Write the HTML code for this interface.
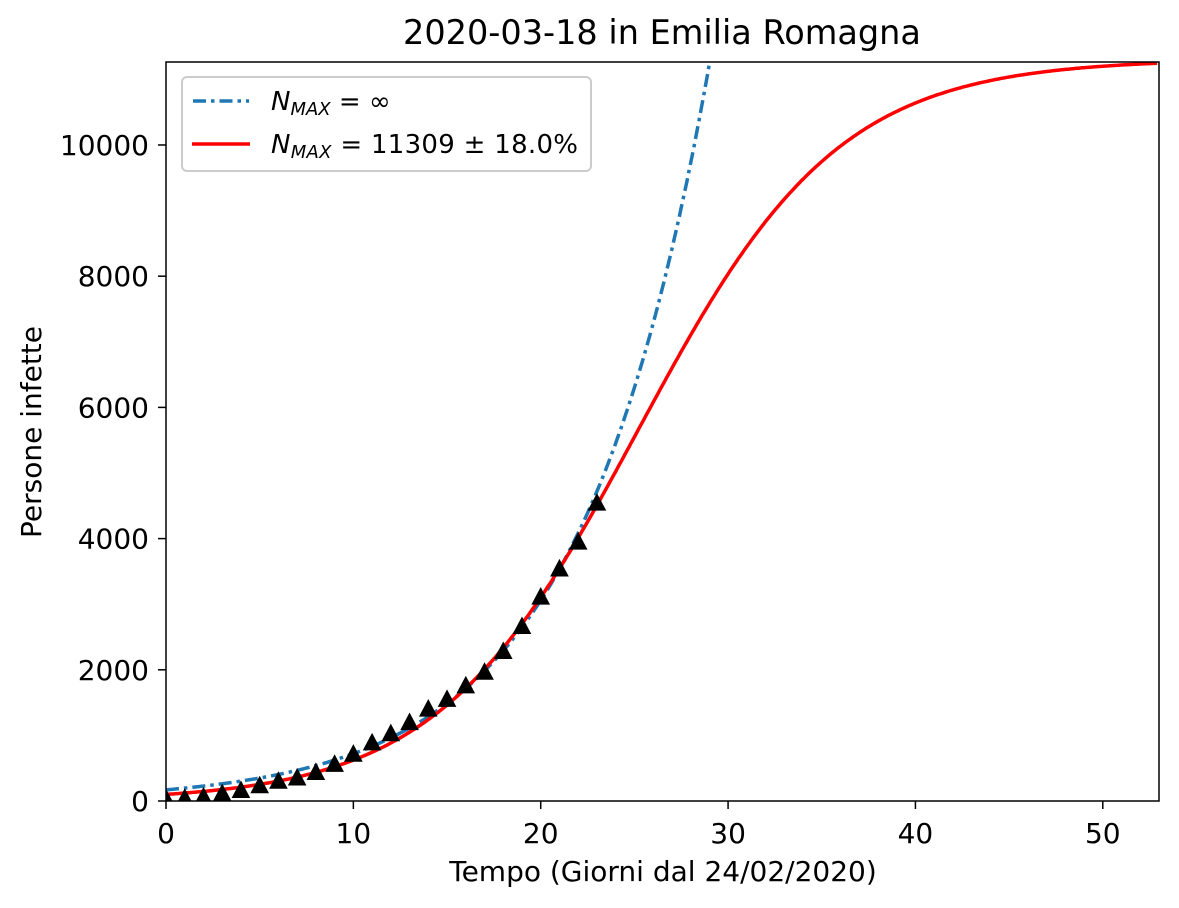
<!DOCTYPE html>
<html><head><meta charset="utf-8"><style>
body{margin:0;background:#fff;font-family:"Liberation Sans","DejaVu Sans",sans-serif}
svg text{font-family:"DejaVu Sans","Liberation Sans",sans-serif;fill:#000}
</style></head><body>
<svg id="chart" width="1179" height="908" xmlns="http://www.w3.org/2000/svg" style="position:absolute;left:0;top:0">
<g id="plot"></g>
</svg>
<script>
const days=[0,1,2,3,4,5,6,7,8,9,10,11,12,13,14,15,16,17,18,19,20,21,22,23];
const cases=[18,26,47,97,145,217,285,335,420,544,698,870,1010,1180,1386,1533,1739,1947,2263,2644,3093,3522,3931,4525];
const xTicks=[0,10,20,30,40,50];
const yTicks=[0,2000,4000,6000,8000,10000];
const logisticParams=[11309,25.2,5.35]; // Nmax, t0, tau
const expParams=[170,6.92]; // A, tau
const X0=166,X1=1159,Y0=801,Y1=62,xMax=53,yMax=11265;
const sx=v=>X0+(v/xMax)*(X1-X0), sy=v=>Y0-(v/yMax)*(Y0-Y1);
const NS="http://www.w3.org/2000/svg";
const g=document.getElementById('plot');
function mk(t,a,p){const e=document.createElementNS(NS,t);for(const k in a)e.setAttribute(k,a[k]);(p||g).appendChild(e);return e;}
const cp=mk('clipPath',{id:'cp'});mk('rect',{x:X0,y:Y1,width:X1-X0,height:Y0-Y1},cp);
let d='';for(let t=0;t<=xMax;t+=0.1){const v=expParams[0]*Math.exp(t/expParams[1]);d+=(d?'L':'M')+sx(t).toFixed(1)+','+sy(v).toFixed(1);}
let e=mk('path',{d:d,fill:'none',stroke:'#1f77b4','stroke-width':3.5,'stroke-dasharray':'13,5,3.5,5','clip-path':'url(#cp)'});


d='';for(let t=0;t<=xMax;t+=0.1){const v=logisticParams[0]/(1+Math.exp(-(t-logisticParams[1])/logisticParams[2]));d+=(d?'L':'M')+sx(t).toFixed(1)+','+sy(v).toFixed(1);}
e=mk('path',{d:d,fill:'none',stroke:'#ff0000','stroke-width':3.5,'clip-path':'url(#cp)'});


days.forEach((t,i)=>{const x=sx(t),y=sy(cases[i]);
const m=mk('path',{d:`M${x},${y-10}L${x+8.5},${y+6}L${x-8.5},${y+6}Z`,fill:'#000',stroke:'#000','stroke-width':1,'clip-path':'url(#cp)'});

});
mk('rect',{x:X0,y:Y1,width:X1-X0,height:Y0-Y1,fill:'none',stroke:'#000','stroke-width':1.5});
xTicks.forEach(v=>{const x=sx(v);mk('line',{x1:x,x2:x,y1:Y0,y2:Y0+8,stroke:'#000','stroke-width':1.5});
const t=mk('text',{x:x,y:843,'text-anchor':'middle','font-size':28});t.textContent=v;

});
yTicks.forEach(v=>{const y=sy(v);mk('line',{x1:X0-8,x2:X0,y1:y,y2:y,stroke:'#000','stroke-width':1.5});
const t=mk('text',{x:149,y:y+10,'text-anchor':'end','font-size':28});t.textContent=v;

});
</script>
<svg style="position:absolute;left:0;top:0" width="1179" height="908" xmlns="http://www.w3.org/2000/svg">
<text x="662" y="44" text-anchor="middle" font-size="33.5">2020-03-18 in Emilia Romagna</text>
<text x="663" y="881" text-anchor="middle" font-size="28">Tempo (Giorni dal 24/02/2020)</text>
<text transform="translate(41,432) rotate(-90)" text-anchor="middle" font-size="28">Persone infette</text>
<g>
<rect x="182" y="77" width="409" height="94" rx="5" fill="#fff" fill-opacity="0.8" stroke="#ccc" stroke-width="2"/>
<line x1="193" x2="249" y1="101" y2="101" stroke="#1f77b4" stroke-width="3.5" stroke-dasharray="13,5,3.5,5"/>
<text x="271" y="110" font-size="26"><tspan font-style="italic">N</tspan><tspan font-style="italic" font-size="18" dy="5">MAX</tspan><tspan dy="-5"> = ∞</tspan></text>
<line x1="192" x2="250" y1="144" y2="144" stroke="#ff0000" stroke-width="3.5"/>
<text x="271" y="153" font-size="26" textLength="307"><tspan font-style="italic">N</tspan><tspan font-style="italic" font-size="18" dy="5">MAX</tspan><tspan dy="-5"> = 11309 ± 18.0%</tspan></text>
</g>
</svg>
</body></html>
